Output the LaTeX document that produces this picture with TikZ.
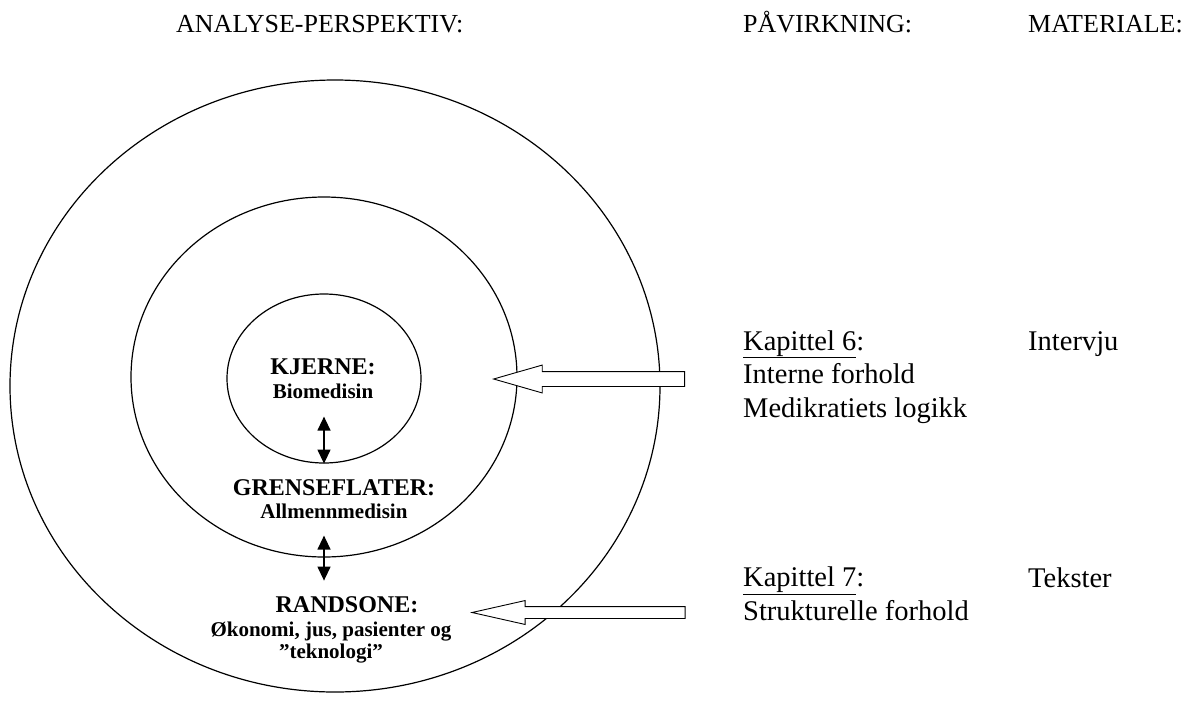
\documentclass[tikz,border=0pt]{standalone}
\usepackage{fontspec}
\setmainfont{Liberation Serif}
\usetikzlibrary{shapes.geometric,shapes.arrows,arrows.meta}

\begin{document}
\begin{tikzpicture}[x=1pt, y=-1pt,
    ring/.style={ellipse, draw, line width=1.2pt, inner sep=0pt},
    hollow/.style={single arrow, draw, line width=0.9pt, fill=white, shape border rotate=180, anchor=tip},
    link/.style={{Triangle[length=14pt,width=13pt]}-{Triangle[length=14pt,width=13pt]}, line width=1.3pt},
    heading/.style={anchor=base west, inner sep=0pt, font=\fontsize{26}{30}\selectfont},
    body/.style={anchor=base west, inner sep=0pt, align=left, font=\fontsize{28.5}{33.5}\selectfont},
    zone/.style={anchor=base, inner sep=0pt, align=center, font=\bfseries\fontsize{21}{21.5}\selectfont}
]
\useasboundingbox (0,0) rectangle (1197,702);

% Headings
\node[heading] (perspektiv) at (176,32) {ANALYSE-PERSPEKTIV:};
\node[heading] (paavirkning) at (743,32) {PÅVIRKNING:};
\node[heading] (materiale) at (1028,32) {MATERIALE:};

% Rings
\node[ring, minimum width=650pt, minimum height=612pt] (rand) at (335,386) {};
\node[ring, minimum width=386pt, minimum height=360pt] (grense) at (324,377) {};
\node[ring, minimum width=194pt, minimum height=169pt] (kjerne) at (324,378.5) {};

% Ring labels (anchored at the last line)
\node[zone] (klabel) at (323,398) {{\fontsize{24}{24}\selectfont KJERNE:}\\[2.5pt]Biomedisin};
\node[zone] (glabel) at (334,518) {{\fontsize{24}{24}\selectfont GRENSEFLATER:}\\[1.5pt]Allmennmedisin};
\node[zone] (rlabel) at (331,658) {{\fontsize{24}{24}\selectfont\hspace*{32pt}RANDSONE:}\\[2.5pt]Økonomi, jus, pasienter og\\”teknologi”};

% Chapters and material
\node[body] (kap6) at (743,417) {\underline{Kapittel 6}:\\Interne forhold\\Medikratiets logikk};
\node[body] (intervju) at (1028,350) {Intervju};
\node[body] (kap7) at (743,620) {\underline{Kapittel 7}:\\Strukturelle forhold};
\node[body] (tekster) at (1028,587) {Tekster};

% Arrows
\node[hollow, inner sep=7pt, minimum width=27pt, minimum height=191pt, single arrow head extend=6.5pt, single arrow tip angle=32] (pil6) at (492,379) {};
\node[hollow, inner sep=5.5pt, minimum width=23pt, minimum height=213pt, single arrow head extend=6pt, single arrow tip angle=25.4] (pil7) at (470,612.5) {};
\draw[link] (kjerne.south) -- ++(0,-47);
\draw[link] ([yshift=22pt]grense.south) -- ([yshift=-23pt]grense.south);
\end{tikzpicture}
\end{document}
